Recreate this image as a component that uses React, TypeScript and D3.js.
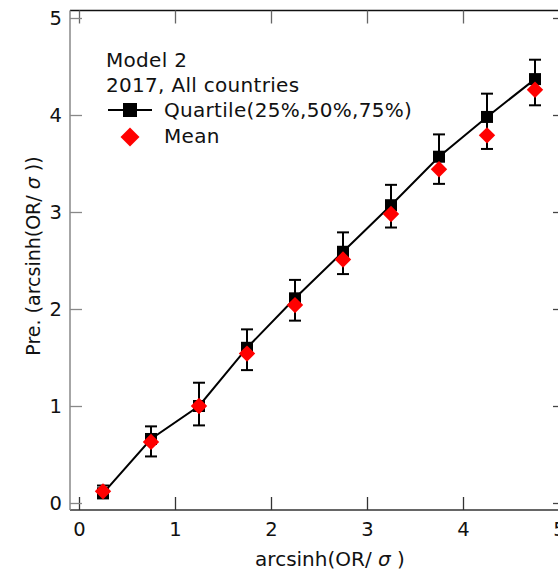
import React, { useEffect, useRef } from "react";
import * as d3 from "d3";

// bin centres on x
const binX = [0.25, 0.75, 1.25, 1.75, 2.25, 2.75, 3.25, 3.75, 4.25, 4.75];
// quartiles (25%, 50%, 75%)
const q25 = [0.05, 0.48, 0.8, 1.37, 1.88, 2.36, 2.84, 3.29, 3.65, 4.1];
const q50 = [0.1, 0.66, 1.0, 1.6, 2.11, 2.59, 3.07, 3.57, 3.98, 4.37];
const q75 = [0.18, 0.79, 1.24, 1.79, 2.3, 2.79, 3.28, 3.8, 4.22, 4.57];
// mean
const meanVals = [0.12, 0.63, 1.0, 1.54, 2.04, 2.51, 2.98, 3.44, 3.79, 4.26];

const xTicks = [0, 1, 2, 3, 4, 5];
const yTicks = [0, 1, 2, 3, 4, 5];
const legendTitle = ["Model 2", "2017, All countries"];
const seriesNames = ["Quartile(25%,50%,75%)", "Mean"];

const W = 558;
const H = 572;
const FONT = "'DejaVu Sans', 'Liberation Sans', sans-serif";

const App = () => {
  const svgRef = useRef<SVGSVGElement>(null);

  useEffect(() => {
    const svg = d3.select(svgRef.current);
    svg.selectAll("*").remove();

    const frame = { left: 70, right: 565, top: 10.5, bottom: 510 };
    const x = d3.scaleLinear().domain([0, 5]).range([79, 559]);
    const y = d3.scaleLinear().domain([0, 5]).range([503, 18]);

    const g = svg.append("g").style("font-family", FONT);

    // frame
    g.append("line")
      .attr("x1", frame.left).attr("x2", frame.right)
      .attr("y1", frame.top).attr("y2", frame.top)
      .attr("stroke", "#111").attr("stroke-width", 1.5);
    g.append("line")
      .attr("x1", frame.left).attr("x2", frame.right)
      .attr("y1", frame.bottom).attr("y2", frame.bottom)
      .attr("stroke", "#333").attr("stroke-width", 1.5);
    g.append("line")
      .attr("x1", frame.left).attr("x2", frame.left)
      .attr("y1", frame.top).attr("y2", frame.bottom)
      .attr("stroke", "#888").attr("stroke-width", 1.5);

    // bottom axis
    const xb = g.append("g")
      .attr("transform", `translate(0,${frame.bottom})`)
      .call(d3.axisBottom(x).tickValues(xTicks).tickSize(-13).tickPadding(12).tickFormat(d3.format("d")));
    xb.select(".domain").remove();
    xb.selectAll("line").attr("stroke", "#333").attr("stroke-width", 1.3);
    xb.selectAll("text").style("font-size", "19.5px").style("font-family", FONT).attr("fill", "#111");

    // top axis (ticks only)
    const xt = g.append("g")
      .attr("transform", `translate(0,${frame.top})`)
      .call(d3.axisTop(x).tickValues(xTicks).tickSize(-13).tickFormat(() => ""));
    xt.select(".domain").remove();
    xt.selectAll("line").attr("stroke", "#666").attr("stroke-width", 1.3);

    // left axis
    const yl = g.append("g")
      .attr("transform", `translate(${frame.left},0)`)
      .call(d3.axisLeft(y).tickValues(yTicks).tickSize(-12).tickPadding(8).tickFormat(d3.format("d")));
    yl.select(".domain").remove();
    yl.selectAll("line").attr("stroke", "#888").attr("stroke-width", 1.3);
    yl.selectAll("text").style("font-size", "19.5px").style("font-family", FONT).attr("fill", "#111");

    // right axis (ticks only)
    const yr = g.append("g")
      .attr("transform", `translate(${frame.right},0)`)
      .call(d3.axisRight(y).tickValues(yTicks).tickSize(-12).tickFormat(() => ""));
    yr.select(".domain").remove();
    yr.selectAll("line").attr("stroke", "#444").attr("stroke-width", 1.3);

    // axis titles
    const xTitle = g.append("text")
      .attr("x", 330).attr("y", 566)
      .attr("text-anchor", "middle")
      .style("font-size", "20px").attr("fill", "#111");
    xTitle.append("tspan").text("arcsinh(OR/ ");
    xTitle.append("tspan").style("font-style", "italic").text("σ");
    xTitle.append("tspan").text(" )");

    const yTitle = g.append("text")
      .attr("transform", "translate(40,256) rotate(-90)")
      .attr("text-anchor", "middle")
      .style("font-size", "19px").attr("fill", "#111");
    yTitle.append("tspan").text("Pre. (arcsinh(OR/ ");
    yTitle.append("tspan").style("font-style", "italic").text("σ");
    yTitle.append("tspan").text(" ))");

    const pts = binX.map((bx, i) => ({ x: bx, lo: q25[i], med: q50[i], hi: q75[i], mean: meanVals[i] }));

    // median line
    const line = d3.line<typeof pts[number]>().x((d) => x(d.x)).y((d) => y(d.med));
    g.append("path")
      .datum(pts)
      .attr("d", line)
      .attr("fill", "none")
      .attr("stroke", "#000")
      .attr("stroke-width", 2);

    // error bars
    const eb = g.append("g").attr("stroke", "#000").attr("stroke-width", 2);
    pts.forEach((d) => {
      eb.append("line").attr("x1", x(d.x)).attr("x2", x(d.x)).attr("y1", y(d.lo)).attr("y2", y(d.hi));
      eb.append("line").attr("x1", x(d.x) - 6).attr("x2", x(d.x) + 6).attr("y1", y(d.lo)).attr("y2", y(d.lo));
      eb.append("line").attr("x1", x(d.x) - 6).attr("x2", x(d.x) + 6).attr("y1", y(d.hi)).attr("y2", y(d.hi));
    });

    // median squares
    g.append("g")
      .selectAll("rect")
      .data(pts)
      .enter()
      .append("rect")
      .attr("x", (d) => x(d.x) - 6)
      .attr("y", (d) => y(d.med) - 6)
      .attr("width", 12)
      .attr("height", 12)
      .attr("fill", "#000");

    // mean diamonds
    const diamond = d3.symbol().type(d3.symbolSquare).size(135);
    g.append("g")
      .selectAll("path")
      .data(pts)
      .enter()
      .append("path")
      .attr("d", diamond)
      .attr("transform", (d) => `translate(${x(d.x)},${y(d.mean)}) rotate(45)`)
      .attr("fill", "#ff0000");

    // legend
    const lg = g.append("g").style("font-size", "20px").style("letter-spacing", "0.3px").attr("fill", "#111");
    lg.append("text").attr("x", 106).attr("y", 67).text(legendTitle[0]);
    lg.append("text").attr("x", 106).attr("y", 92).text(legendTitle[1]);
    lg.append("line")
      .attr("x1", 108).attr("x2", 152).attr("y1", 110).attr("y2", 110)
      .attr("stroke", "#000").attr("stroke-width", 2);
    lg.append("rect").attr("x", 123).attr("y", 103).attr("width", 14).attr("height", 14).attr("fill", "#000");
    lg.append("text").attr("x", 164).attr("y", 117).text(seriesNames[0]);
    lg.append("path")
      .attr("d", d3.symbol().type(d3.symbolSquare).size(180))
      .attr("transform", "translate(130,137) rotate(45)")
      .attr("fill", "#ff0000");
    lg.append("text").attr("x", 164).attr("y", 143).text(seriesNames[1]);
  }, []);

  return (
    <svg
      ref={svgRef}
      width={W}
      height={H}
      style={{ position: "absolute", left: 0, top: 0, background: "#fff" }}
    />
  );
};

export default App;
